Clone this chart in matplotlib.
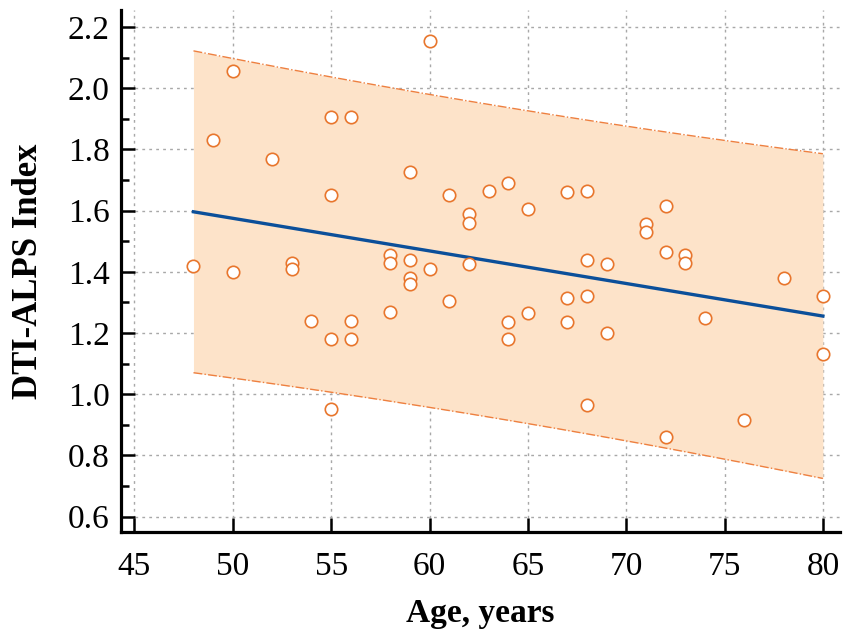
import numpy as np
import matplotlib
matplotlib.use("Agg")
import matplotlib.pyplot as plt

#-----------data: age (years) and DTI-ALPS index for each subject
age = [48, 49, 50, 50, 52, 53, 53, 54,
       55, 55, 55, 55, 56, 56, 56,
       58, 58, 58, 59, 59, 59, 59, 60, 60,
       61, 61, 62, 62, 62, 63, 64, 64, 64,
       65, 65, 67, 67, 67, 68, 68, 68, 68,
       69, 69, 71, 71, 72, 72, 72, 73, 73,
       74, 76, 78, 80, 80]
alps = [1.42, 1.83, 2.055, 1.40, 1.77, 1.43, 1.41, 1.24,
        1.905, 1.65, 1.18, 0.95, 1.905, 1.24, 1.18,
        1.455, 1.43, 1.27, 1.725, 1.44, 1.38, 1.36, 2.155, 1.41,
        1.65, 1.305, 1.59, 1.56, 1.425, 1.665, 1.69, 1.235, 1.18,
        1.605, 1.265, 1.66, 1.315, 1.235, 1.665, 1.44, 1.32, 0.965,
        1.425, 1.20, 1.555, 1.53, 1.615, 1.465, 0.86, 1.455, 1.43,
        1.25, 0.915, 1.38, 1.32, 1.13]

x_ticks = [45, 50, 55, 60, 65, 70, 75, 80]
y_ticks = [0.6, 0.8, 1.0, 1.2, 1.4, 1.6, 1.8, 2.0, 2.2]

x = np.array(age, dtype=float)
y = np.array(alps, dtype=float)

#-----------least squares line and 95% prediction band (t for df=54)
b, a = np.polyfit(x, y, 1)
n = len(x)
resid = y - (a + b * x)
s = np.sqrt(np.sum(resid ** 2) / (n - 2))
t_crit = 2.005
xs = np.linspace(x.min(), x.max(), 200)
fit = a + b * xs
half = t_crit * s * np.sqrt(1 + 1 / n + (xs - x.mean()) ** 2 / np.sum((x - x.mean()) ** 2))

plt.rcParams['font.family'] = ['Liberation Serif', 'DejaVu Serif']
fig = plt.figure(figsize=(8.5, 6.4), dpi=100)
ax = fig.add_axes([0.142, 0.169, 0.846, 0.815])

ax.fill_between(xs, fit - half, fit + half, color='#fde3c9', lw=0, zorder=2)
ax.plot(xs, fit + half, color='#ee8040', lw=1.0, ls='-.', zorder=3)
ax.plot(xs, fit - half, color='#ee8040', lw=1.0, ls='-.', zorder=3)
ax.plot(xs, fit, color='#0b4f9a', lw=2.4, zorder=4)
ax.scatter(x, y, s=80, facecolor='white', edgecolor='#e8762d', linewidth=1.2, zorder=5)

ax.set_xlim(44.3, 80.86)
ax.set_ylim(0.55, 2.255)
ax.set_xticks(x_ticks)
ax.set_yticks(y_ticks)
ax.set_yticklabels(['%.1f' % v for v in y_ticks])
ax.set_yticks(np.arange(0.7, 2.2, 0.2), minor=True)

ax.grid(True, which='major', color='#a8a8a8', ls=(0, (2, 3)), lw=1.0, zorder=0)
ax.set_axisbelow(True)

for side in ['top', 'right']:
    ax.spines[side].set_visible(False)
for side in ['left', 'bottom']:
    ax.spines[side].set_linewidth(2.3)

ax.tick_params(axis='both', which='major', direction='in', length=10, width=1.8,
               labelsize=24, pad=8, colors='black')
ax.tick_params(axis='x', which='major', pad=14)
ax.tick_params(axis='y', which='minor', direction='in', length=5.5, width=1.8)

ax.set_xlabel('Age, years', fontsize=24, fontweight='bold', labelpad=12)
ax.set_ylabel('DTI-ALPS Index', fontsize=25, fontweight='bold', labelpad=16)

fig.savefig('out.png', dpi=100)
